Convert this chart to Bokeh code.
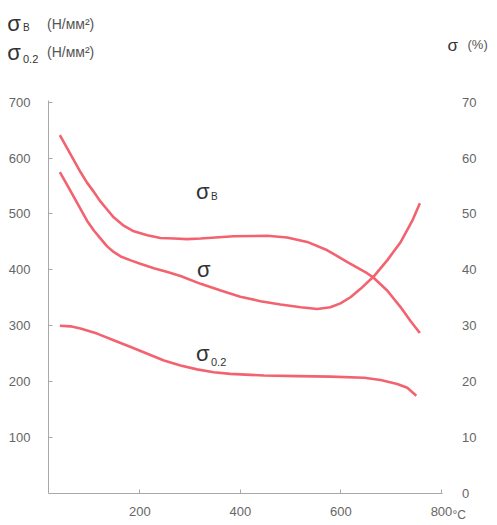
from bokeh.plotting import figure
from bokeh.models import Range1d, LinearAxis, FixedTicker, Label
from bokeh.embed import file_html
from bokeh.resources import INLINE

# ---- data ----
temp_b = [41, 56, 69, 82, 95, 109, 122, 135, 148, 168, 188, 215, 241, 268, 294, 321,
          387, 453, 493, 533, 573, 613, 652, 665, 692, 719, 738, 757]
sigma_b = [641, 617, 596, 575, 556, 539, 522, 508, 494, 479, 469, 462, 457, 456, 455, 456,
           460, 461, 458, 450, 435, 414, 394, 386, 363, 333, 309, 287]

temp_e = [41, 56, 69, 82, 95, 109, 122, 135, 148, 162, 182, 201, 228, 255, 281, 321,
          361, 400, 440, 480, 520, 553, 579, 599, 619, 639, 665, 692, 719, 742, 757]
elong = [57.5, 55.1, 53.0, 50.9, 48.8, 47.0, 45.6, 44.2, 43.2, 42.4, 41.7, 41.1, 40.3, 39.6, 38.9, 37.5,
         36.3, 35.2, 34.4, 33.8, 33.3, 33.0, 33.3, 34.0, 35.1, 36.6, 38.8, 41.7, 45.0, 48.8, 51.9]

temp_y = [41, 62, 82, 115, 148, 182, 215, 248, 281, 314, 347, 380, 447, 513, 579, 646,
          679, 712, 732, 750]
sigma_02 = [300, 299, 295, 286, 274, 262, 250, 238, 229, 222, 217, 214, 211, 210, 209, 207,
            203, 196, 189, 175]

x_ticks = [200, 400, 600, 800]
left_ticks = [100, 200, 300, 400, 500, 600, 700]
right_ticks = [0, 10, 20, 30, 40, 50, 60, 70]

FONT = "Liberation Sans"
RED = "#f2636f"
W, H = 494, 521

# pixel <-> data mapping (picture px)
def px2x(px):
    return 200 + (px - 139.3) / 0.5028

def py2y(py):
    return (493.0 - py) / 0.5591

X_LEFT, X_RIGHT = px2x(48), px2x(441.5)
Y_TOP = py2y(100)

p = figure(width=W, height=H, output_backend="svg", toolbar_location=None,
           x_range=Range1d(px2x(0), px2x(W)), y_range=Range1d(py2y(H), py2y(0)),
           min_border=0, min_border_left=0, min_border_right=0,
           min_border_top=0, min_border_bottom=0)
p.extra_y_ranges = {"pct": Range1d(py2y(H) / 10, py2y(0) / 10)}
p.outline_line_color = None
p.xgrid.visible = False
p.ygrid.visible = False
p.background_fill_color = "white"
p.border_fill_color = "white"

AX = "#a8a8a8"
for ax in (p.xaxis[0], p.yaxis[0]):
    ax.axis_line_color = AX
    ax.major_tick_line_color = AX
    ax.major_tick_in = 4
    ax.major_tick_out = 0
    ax.minor_tick_line_color = None
    ax.major_label_text_font = FONT
    ax.major_label_text_font_size = "13px"
    ax.major_label_text_color = "#666666"

p.xaxis[0].ticker = FixedTicker(ticks=x_ticks)
p.xaxis[0].fixed_location = 0
p.xaxis[0].bounds = (X_LEFT, X_RIGHT)
p.xaxis[0].major_label_standoff = 13
p.yaxis[0].ticker = FixedTicker(ticks=left_ticks)
p.yaxis[0].fixed_location = X_LEFT
p.yaxis[0].bounds = (0, Y_TOP)
p.yaxis[0].major_label_standoff = 18

rax = LinearAxis(y_range_name="pct", ticker=FixedTicker(ticks=right_ticks))
rax.axis_line_color = None
rax.major_tick_line_color = None
rax.minor_tick_line_color = None
rax.major_tick_in = 0
rax.major_tick_out = 0
rax.fixed_location = X_RIGHT
rax.major_label_standoff = 20
rax.major_label_text_font = FONT
rax.major_label_text_font_size = "13px"
rax.major_label_text_color = "#666666"
p.add_layout(rax, "right")

p.line(temp_b, sigma_b, line_color=RED, line_width=2.6)
p.line(temp_e, elong, line_color=RED, line_width=2.6, y_range_name="pct")
p.line(temp_y, sigma_02, line_color=RED, line_width=2.6)

def lab(text, px, py, size, color="#333333"):
    p.add_layout(Label(x=px2x(px), y=py2y(py), text=text, text_font=FONT,
                       text_font_size=size, text_color=color,
                       text_align="left", text_baseline="alphabetic"))

# in-plot labels
lab("σ", 195.5, 190.5, "22px")
lab("В", 210.5, 196, "10px")
lab("σ", 196.5, 269, "22px")
lab("σ", 195.5, 352.5, "22px")
lab("0.2", 210.5, 361, "11px")

# header labels
lab("σ", 6.8, 23, "22px")
lab("В", 22.5, 27, "10px")
lab("(Н/мм²)", 46.5, 23, "14px", "#555555")
lab("σ", 6.8, 51.5, "22px")
lab("0.2", 22.5, 58, "11px")
lab("(Н/мм²)", 46.5, 51.5, "14px", "#555555")
lab("σ", 447, 44.5, "17px")
lab("(%)", 467, 44, "13px", "#555555")
lab("°C", 452, 514.5, "12px", "#666666")

open("out.html", "w").write(file_html(p, INLINE))
